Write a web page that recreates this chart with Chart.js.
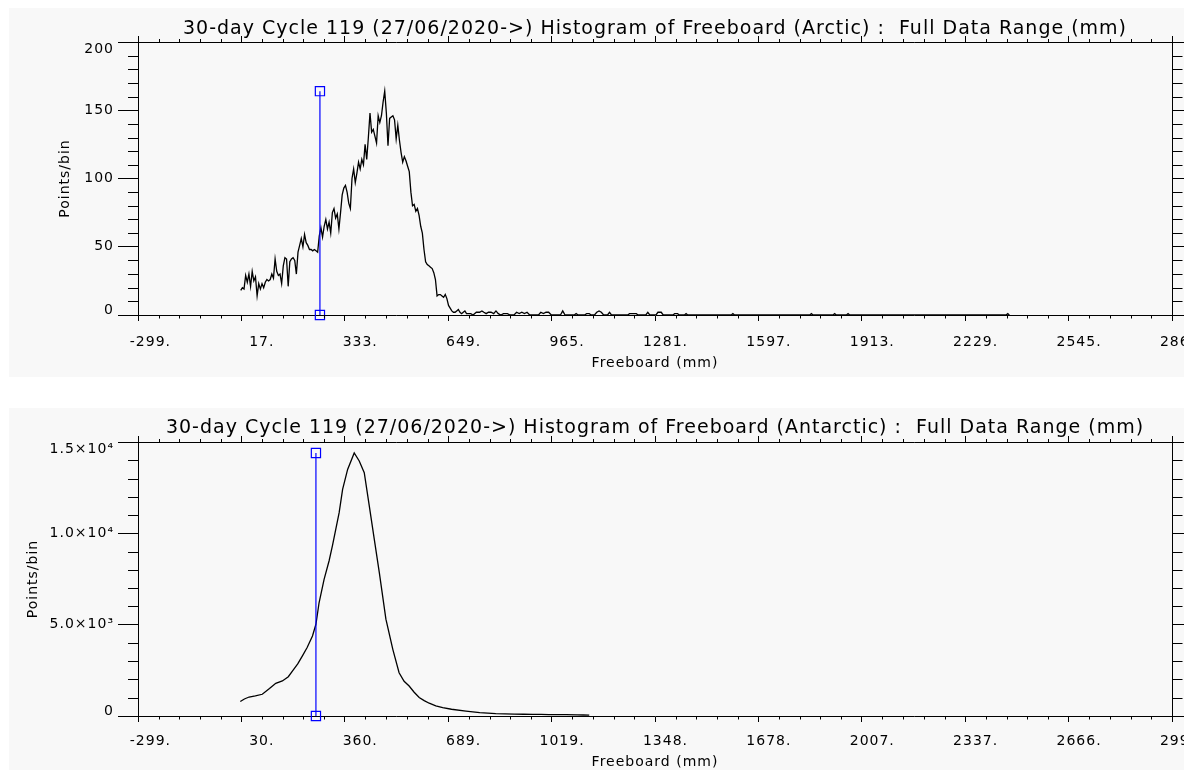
<!DOCTYPE html>
<html>
<head>
<meta charset="utf-8">
<script src="https://cdn.jsdelivr.net/npm/chart.js@4.4.1/dist/chart.umd.min.js"></script>
<style>
  html, body { margin: 0; padding: 0; background: #fff; overflow: hidden; width: 1184px; height: 770px; }
  .panel { position: absolute; left: 9px; right: 0; background: #f8f8f8; }
  canvas { position: absolute; left: 0; }
</style>
</head>
<body>
<div class="panel" style="top:8px;height:369px"></div>
<div class="panel" style="top:408px;height:362px"></div>
<canvas id="arctic" width="1230" height="377" style="top:0"></canvas>
<canvas id="antarctic" width="1230" height="382" style="top:390px"></canvas>
<script>
// ---- Arctic (top panel) ----
var arcticTitle = '30-day Cycle 119 (27/06/2020->) Histogram of Freeboard (Arctic) :  Full Data Range (mm)';
var arcticStart = 15;   // first bin centre (mm)
var arcticBin = 5;      // bin width (mm)
var arcticCounts = [
  18, 20, 19, 29, 24, 30, 21, 32, 25, 28,
  14, 23, 19, 23, 20, 24, 26, 25, 26, 30,
  27, 41, 32, 29, 30, 23, 36, 42, 41, 21,
  39, 41, 42, 40, 30, 46, 51, 56, 50, 59,
  53, 51, 48, 48, 47, 48, 47, 46, 58, 64,
  57, 65, 70, 63, 68, 60, 75, 78, 71, 74,
  63, 75, 88, 93, 95, 90, 82, 78, 100, 107,
  97, 104, 112, 107, 114, 110, 125, 114, 130, 148,
  134, 136, 131, 126, 146, 141, 146, 156, 164, 148,
  124, 144, 145, 146, 143, 129, 139, 128, 119, 112,
  116, 113, 109, 105, 90, 80, 81, 76, 78, 73,
  65, 60, 48, 39, 37, 36, 35, 34, 31, 26,
  14, 15, 15, 14, 13, 15, 12, 7, 5, 3,
  2, 2, 3, 4, 2, 1, 2, 3
];
// sparse tail beyond 700 mm
var arcticTailX = [705, 712, 718, 725, 735, 745, 752, 758, 765, 772, 780, 788, 795, 802, 810, 818, 830, 838,
  850, 858, 866, 874, 882, 890, 898, 925, 932, 940, 948, 956, 964, 992, 999, 1006, 1034, 1040, 1046,
  1066, 1072, 1080, 1086, 1096, 1103, 1110, 1117, 1124, 1136, 1142, 1148, 1198, 1203, 1224, 1229,
  1253, 1259, 1265, 1284, 1290, 1300, 1306, 1336, 1341, 1350, 1355, 1371, 1376, 1381, 1514, 1519, 1524,
  1754, 1759, 1764, 1825, 1830, 1835, 1866, 1871, 1876, 2354, 2359, 2364];
var arcticTailY = [1, 1, 1, 0, 2, 2, 3, 2, 1, 2, 2, 1, 3, 1, 0, 1, 1, 0,
  0, 2, 1, 2, 1, 2, 0, 0, 2, 1, 2, 2, 0, 0, 3, 0, 0, 1, 0,
  0, 1, 1, 0, 0, 2, 3, 2, 0, 0, 2, 0, 0, 1, 1, 0,
  0, 2, 0, 0, 2, 2, 0, 0, 1, 1, 0, 0, 1, 0, 0, 1, 0,
  0, 1, 0, 0, 1, 0, 0, 1, 0, 0, 1, 0];
var arcticMarkerX = 257;
var arcticMarkerTop = 164;
var arcticXTicks = [-299, 17, 333, 649, 965, 1281, 1597, 1913, 2229, 2545, 2861];
var arcticXLabels = ['-299.', '17.', '333.', '649.', '965.', '1281.', '1597.', '1913.', '2229.', '2545.', '2861.'];
var arcticYTicks = [0, 50, 100, 150, 200];
var arcticYLabels = ['0', '50', '100', '150', '200'];

// ---- Antarctic (bottom panel) ----
var antarcticTitle = '30-day Cycle 119 (27/06/2020->) Histogram of Freeboard (Antarctic) :  Full Data Range (mm)';
var antarcticX = [27, 40, 55, 75, 97, 120, 140, 161, 180, 193, 210, 225, 240, 257, 268, 278, 294, 310, 321, 342,
  353, 369, 390, 406, 422, 438, 454, 470, 491, 513, 533, 549, 565, 581, 597, 613, 629, 650, 672, 700,
  746, 790, 841, 870, 900, 930, 958, 985, 1010, 1040, 1065, 1100, 1120, 1139];
var antarcticY = [790, 930, 1040, 1100, 1190, 1500, 1790, 1920, 2150, 2460, 2850, 3290, 3750, 4380, 5020, 6200, 7480, 8500, 9350, 11130,
  12410, 13500, 14400, 13960, 13320, 11500, 9670, 7850, 5300, 3650, 2370, 1900, 1640, 1300, 1010, 840, 700, 560, 460, 370,
  270, 190, 130, 115, 100, 95, 90, 85, 80, 75, 70, 60, 55, 50];
var antarcticMarkerX = 268;
var antarcticMarkerTop = 14400;
var antarcticXTicks = [-299, 30.5, 360, 689.5, 1019, 1348.5, 1678, 2007.5, 2337, 2666.5, 2996];
var antarcticXLabels = ['-299.', '30.', '360.', '689.', '1019.', '1348.', '1678.', '2007.', '2337.', '2666.', '2996.'];
var antarcticYTicks = [0, 5000, 10000, 15000];
var antarcticYLabels = ['0', '5.0×10³', '1.0×10⁴', '1.5×10⁴'];

var ink = '#000';
var fam = 'DejaVu Sans';

// IDL's vector font is wide; space the letters out a little
var spacing = {
  id: 'spacing',
  beforeLayout: function (c) { c.ctx.letterSpacing = '1px'; },
  beforeDraw: function (c) { c.ctx.letterSpacing = '1px'; }
};

// minor ticks between the major ones, drawn through each scale
var minorTicks = {
  id: 'minorTicks',
  afterDraw: function (chart, args, opts) {
    var ctx = chart.ctx;
    ctx.save();
    ctx.strokeStyle = ink;
    ctx.lineWidth = 1;
    ctx.beginPath();
    Object.keys(chart.scales).forEach(function (id) {
      var s = chart.scales[id];
      var t = s.ticks.map(function (k) { return k.value; });
      var len = s.isHorizontal() ? opts.xLen : opts.yLen;
      for (var i = 0; i < t.length - 1; i++) {
        for (var k = 1; k < opts.n; k++) {
          var p = Math.round(s.getPixelForValue(t[i] + (t[i + 1] - t[i]) * k / opts.n)) + 0.5;
          if (s.position === 'bottom') { ctx.moveTo(p, s.top); ctx.lineTo(p, s.top + len + 0.5); }
          else if (s.position === 'top') { ctx.moveTo(p, s.bottom + 0.5); ctx.lineTo(p, s.bottom - len); }
          else if (s.position === 'left') { ctx.moveTo(s.right + 0.5, p); ctx.lineTo(s.right - len, p); }
          else { ctx.moveTo(s.left, p); ctx.lineTo(s.left + len + 0.5, p); }
        }
      }
    });
    ctx.stroke();
    ctx.restore();
  }
};

function font(size) { return { family: fam, size: size, lineHeight: 1.2 }; }

function grid(len) {
  return { drawOnChartArea: false, drawTicks: true, tickLength: len, color: ink, tickColor: ink, lineWidth: 1 };
}

function histChart(id, g, d) {
  var lastY = d.yTicks.length - 1;
  return new Chart(document.getElementById(id), {
    type: 'line',
    data: {
      datasets: [
        {
          data: [{ x: d.markerX, y: 0 }, { x: d.markerX, y: d.markerTop }],
          borderColor: '#0000ff', borderWidth: 1.2,
          pointStyle: 'rect', pointRadius: 6.5, pointBorderWidth: 1.2,
          pointBorderColor: '#0000ff', pointBackgroundColor: 'rgba(0,0,0,0)',
          clip: false
        },
        { data: d.points, borderColor: ink, borderWidth: 1.3, pointRadius: 0, tension: 0, fill: false }
      ]
    },
    options: {
      responsive: false,
      animation: false,
      devicePixelRatio: 1,
      events: [],
      layout: { padding: 0 },
      plugins: {
        legend: { display: false },
        tooltip: { enabled: false },
        minorTicks: { n: 5, xLen: 3, yLen: 10 }
      },
      scales: {
        x: {
          type: 'linear', position: 'bottom', min: d.xTicks[0], max: d.xTicks[d.xTicks.length - 1],
          afterBuildTicks: function (s) { s.ticks = d.xTicks.map(function (v) { return { value: v }; }); },
          afterFit: function (s) { s.height = g.h - g.bottom; },
          grid: grid(6),
          border: { display: true, color: ink, width: 1 },
          ticks: {
            autoSkip: false, maxRotation: 0, minRotation: 0, align: 'end', labelOffset: 33,
            padding: g.xPad, color: ink, font: font(14),
            callback: function (v, i) { return d.xLabels[i]; }
          },
          title: { display: true, text: 'Freeboard (mm)', color: ink, font: font(14), padding: { top: 0, bottom: g.xTitlePad } }
        },
        xTop: {
          type: 'linear', axis: 'x', position: 'top', min: d.xTicks[0], max: d.xTicks[d.xTicks.length - 1],
          afterBuildTicks: function (s) { s.ticks = d.xTicks.map(function (v) { return { value: v }; }); },
          afterFit: function (s) { s.height = g.top; },
          grid: grid(6),
          border: { display: true, color: ink, width: 1 },
          ticks: { display: false },
          title: { display: true, text: d.title, color: ink, font: font(19), padding: { top: g.titlePad, bottom: 0 } }
        },
        y: {
          type: 'linear', position: 'left', min: 0, max: d.yTicks[lastY],
          afterBuildTicks: function (s) { s.ticks = d.yTicks.map(function (v) { return { value: v }; }); },
          afterFit: function (s) { s.width = g.left; },
          grid: grid(20),
          border: { display: true, color: ink, width: 1 },
          ticks: {
            autoSkip: false, padding: 4, color: ink,
            font: function (c) {
              return { family: fam, size: 14, lineHeight: c.index === 0 ? 0.6 : (c.index === lastY ? 1.0 : 1.2) };
            },
            callback: function (v, i) {
              var lab = d.yLabels[i];
              if (i === 0) return [lab, ''];
              if (i === lastY) return ['', lab];
              return lab;
            }
          },
          title: { display: true, text: 'Points/bin', color: ink, font: font(14), padding: { top: g.yTitlePad, bottom: 0 } }
        },
        yRight: {
          type: 'linear', axis: 'y', position: 'right', min: 0, max: d.yTicks[lastY],
          afterBuildTicks: function (s) { s.ticks = d.yTicks.map(function (v) { return { value: v }; }); },
          afterFit: function (s) { s.width = g.w - g.right; },
          grid: grid(20),
          border: { display: true, color: ink, width: 1 },
          ticks: { display: false }
        }
      }
    },
    plugins: [spacing, minorTicks]
  });
}

var arcticPoints = arcticCounts.map(function (c, i) { return { x: arcticStart + i * arcticBin, y: c }; })
  .concat(arcticTailX.map(function (x, i) { return { x: x, y: arcticTailY[i] }; }));
var antarcticPoints = antarcticX.map(function (x, i) { return { x: x, y: antarcticY[i] }; });

histChart('arctic',
  { w: 1230, h: 377, top: 42, bottom: 315, left: 138, right: 1172, titlePad: 18, xPad: 13, xTitlePad: 5, yTitlePad: 57 },
  { title: arcticTitle, points: arcticPoints, markerX: arcticMarkerX, markerTop: arcticMarkerTop,
    xTicks: arcticXTicks, xLabels: arcticXLabels, yTicks: arcticYTicks, yLabels: arcticYLabels });

histChart('antarctic',
  { w: 1230, h: 382, top: 52, bottom: 326, left: 138, right: 1172, titlePad: 27, xPad: 11, xTitlePad: 1, yTitlePad: 25 },
  { title: antarcticTitle, points: antarcticPoints, markerX: antarcticMarkerX, markerTop: antarcticMarkerTop,
    xTicks: antarcticXTicks, xLabels: antarcticXLabels, yTicks: antarcticYTicks, yLabels: antarcticYLabels });
</script>
</body>
</html>
